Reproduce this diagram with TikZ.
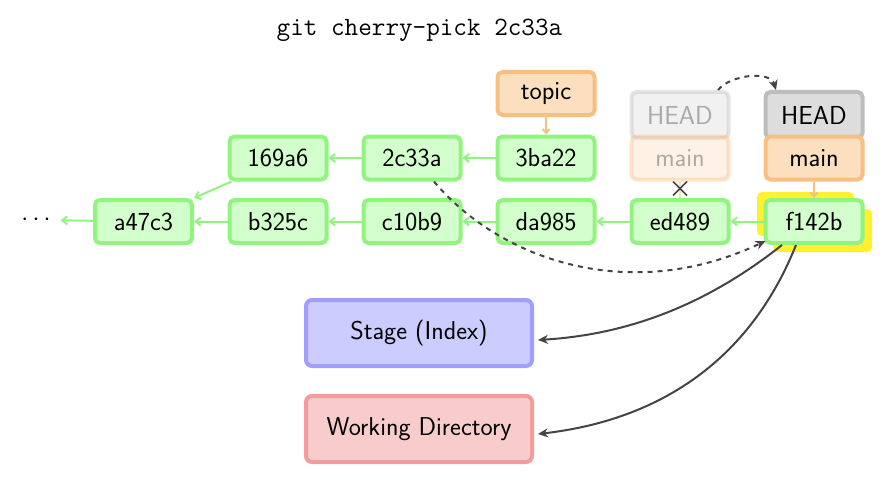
\documentclass[tikz,border=0pt]{standalone}
\usepackage{fontspec}
\usetikzlibrary{arrows.meta,calc}
\definecolor{cgreenD}{HTML}{90F47F}
\definecolor{cgreenL}{HTML}{D2FFCC}
\definecolor{corD}{HTML}{F8BF80}
\definecolor{corL}{HTML}{FBDFBE}
\definecolor{cgrD}{HTML}{BDBDBD}
\definecolor{cgrL}{HTML}{DDDDDD}
\definecolor{cblD}{HTML}{A09EFF}
\definecolor{cblL}{HTML}{CDCCFF}
\definecolor{credD}{HTML}{F59B9B}
\definecolor{credL}{HTML}{F9CCCC}
\definecolor{cyel}{HTML}{FFF12E}
\definecolor{cdark}{HTML}{444444}
\tikzset{
  base/.style={rounded corners=5pt, line width=4pt, minimum width=97pt, minimum height=43pt, inner sep=0pt, font=\sffamily\fontsize{26}{30}\selectfont},
  commit/.style={base, draw=cgreenD, fill=cgreenL},
  branch/.style={base, draw=corD, fill=corL},
  headbox/.style={base, draw=cgrD, fill=cgrL},
  ghost/.style={opacity=0.4, text opacity=0.3},
  parent/.style={draw=cgreenD, line width=2pt, -{Straight Barb[length=5pt,width=8pt]}},
  ptr/.style={draw=corD, line width=2pt, -{Straight Barb[length=4pt,width=7pt]}},
  flow/.style={draw=cdark, line width=2pt, -{Stealth[length=10pt,width=9pt]}},
  flowd/.style={flow, dash pattern=on 5pt off 5pt},
  area/.style={rounded corners=6pt, line width=4pt, minimum width=226pt, minimum height=66pt, font=\sffamily\fontsize{25.8}{30}\selectfont},
}
\begin{document}
\begin{tikzpicture}[x=1pt,y=-1pt]
\useasboundingbox (0,0) rectangle (892,495);
\node[font=\ttfamily\fontsize{26.4}{30}\selectfont] (title) at (419.5,30) {git cherry-pick 2c33a};
% yellow highlight
\fill[cyel, rounded corners=5pt] (757,192) rectangle (854,236);
\fill[cyel, rounded corners=5pt] (773,209) rectangle (872,252);
% commits
\node[commit] (a47c3) at (143.5,221.5) {a47c3};
\node[commit] (b325c) at (278,221.5) {b325c};
\node[commit] (c10b9) at (412,221.5) {c10b9};
\node[commit] (da985) at (546,221.5) {da985};
\node[commit] (ed489) at (680,221.5) {ed489};
\node[commit] (f142b) at (814,221.5) {f142b};
\node[commit] (169a6) at (278,158) {169a6};
\node[commit] (2c33a) at (412,158) {2c33a};
\node[commit] (3ba22) at (546,158) {3ba22};
\node[branch] (topic) at (546,93.5) {topic};
% ghost HEAD/main
\node[headbox, ghost, minimum height=46pt] (ghead) at (680,115) {HEAD};
\node[branch, ghost] (gmain) at (680,158) {main};
% new HEAD/main
\node[headbox, minimum height=46pt] (head) at (814,115) {HEAD};
\node[branch] (main) at (814,158) {main};
% dots
\node[font=\fontsize{26}{30}\selectfont, inner xsep=10pt, inner ysep=2pt] (dots) at (36,220) {$\cdots$};
% parent arrows
\draw[parent] (a47c3) -- (dots);
\draw[parent] (b325c) -- (a47c3);
\draw[parent] (c10b9) -- (b325c);
\draw[parent] (da985) -- (c10b9);
\draw[parent] (ed489) -- (da985);
\draw[parent] (f142b) -- (ed489);
\coordinate (s169) at ($(169a6.south west)+(4,0)$);
\draw[parent] (s169) -- (a47c3.north east);
\draw[parent] (2c33a) -- (169a6);
\draw[parent] (3ba22) -- (2c33a);
\draw[ptr] (topic) -- (3ba22);
\draw[ptr] (main) -- (f142b);
\draw[draw=corD!50, line width=2pt] (gmain.south) -- (ed489.north);
\coordinate (cross) at (680,188.5);
\draw[cdark, line width=1.6pt] ($(cross)+(-7,-7)$) -- ($(cross)+(7,7)$);
\draw[cdark, line width=1.6pt] ($(cross)+(-7,7)$) -- ($(cross)+(7,-7)$);
% areas
\node[area, draw=cblD, fill=cblL] (stage) at (419,333) {Stage (Index)};
\node[area, draw=credD, fill=credL] (wd) at (419,429) {Working Directory};
% flows
\draw[flowd] ($(2c33a.south)+(22,0)$) .. controls (500,260) and (630,305) .. ($(f142b.south west)+(2,-4)$);
\draw[flowd] ($(ghead.north)+(38,0)$) .. controls (730,75) and (770,70) .. ($(head.north)+(-38,0)$);
\draw[flow] ($(f142b.south)+(-32,0)$) .. controls (700,310) and (620,335) .. ($(stage.east)+(4,7)$);
\draw[flow] ($(f142b.south)+(-18,0)$) .. controls (750,360) and (660,420) .. ($(wd.east)+(4,5)$);
\end{tikzpicture}
\end{document}
